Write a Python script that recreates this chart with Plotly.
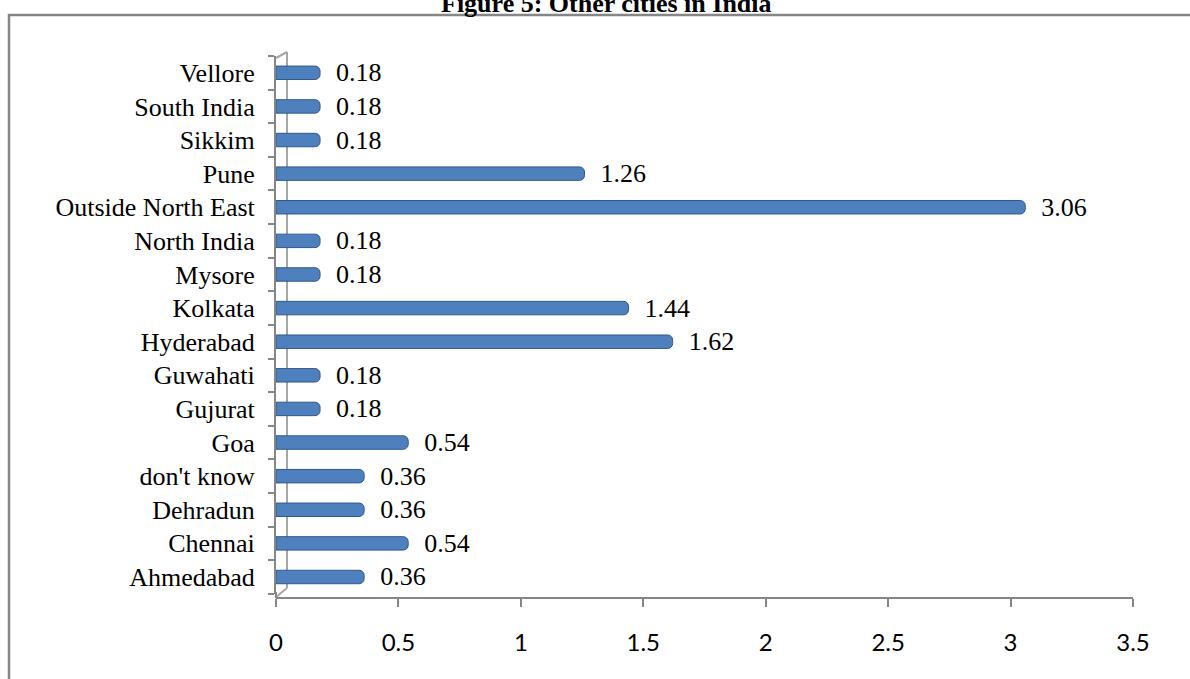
import plotly.graph_objects as go

categories = ["Ahmedabad", "Chennai", "Dehradun", "don't know", "Goa", "Gujurat",
              "Guwahati", "Hyderabad", "Kolkata", "Mysore", "North India",
              "Outside North East", "Pune", "Sikkim", "South India", "Vellore"]
values = [0.36, 0.54, 0.36, 0.36, 0.54, 0.18, 0.18, 1.62, 1.44, 0.18, 0.18,
          3.06, 1.26, 0.18, 0.18, 0.18]
x_ticks = [0, 0.5, 1, 1.5, 2, 2.5, 3, 3.5]
x_tick_labels = ["0", "0.5", "1", "1.5", "2", "2.5", "3", "3.5"]
title_text = "Figure 5: Other cities in India"

W, H = 1190, 679
L, R, T, B = 276, 57, 56, 81
PW, PH = W - L - R, H - T - B

def X(p):
    return (p - L) / PW

def Y(p):
    return (H - B - p) / PH

SERIF = "Liberation Serif, Times New Roman, serif"
GRAY = "#868686"

fig = go.Figure(go.Bar(
    y=categories, x=values, orientation="h",
    marker=dict(color="#4E80BE", line=dict(color="#2F5A8C", width=1), cornerradius=5),
    text=values, texttemplate="  %{x}", textposition="outside", constraintext="none",
    textfont=dict(family=SERIF, size=26, color="black"),
    cliponaxis=False,
))

fig.update_layout(
    width=W, height=H,
    margin=dict(l=L, r=R, t=T, b=B, pad=0),
    paper_bgcolor="white", plot_bgcolor="white",
    bargap=0.6, showlegend=False,
    xaxis=dict(range=[0, 3.5], tickvals=x_ticks, ticktext=x_tick_labels,
               showgrid=False, zeroline=False, showline=True, linecolor=GRAY, linewidth=2,
               ticks="outside", ticklen=8, tickwidth=2, tickcolor=GRAY,
               ticklabelstandoff=15, anchor="free", position=0,
               tickfont=dict(family="Lato, Open Sans, sans-serif", size=24, color="black")),
    yaxis=dict(type="category", categoryorder="array", categoryarray=categories,
               domain=[Y(593.8), 1],
               showgrid=False, zeroline=False, showline=True, linecolor=GRAY, linewidth=2,
               ticks="outside", ticklen=6, tickwidth=2, tickcolor=GRAY, tickson="boundaries",
               ticklabelstandoff=14,
               tickfont=dict(family=SERIF, size=26, color="black")),
)

shapes = [
    # outer border
    dict(type="rect", xref="paper", yref="paper", x0=X(9), x1=X(1210), y0=Y(720), y1=Y(15),
         line=dict(color=GRAY, width=2.5), fillcolor="rgba(0,0,0,0)", layer="below"),
    # back wall edge
    dict(type="line", xref="paper", yref="paper", x0=X(287), x1=X(287), y0=Y(588), y1=Y(52),
         line=dict(color="#A6A6A6", width=2), layer="below"),
    dict(type="line", xref="paper", yref="paper", x0=X(276), x1=X(287), y0=Y(58), y1=Y(52),
         line=dict(color="#A6A6A6", width=2), layer="below"),
    dict(type="line", xref="paper", yref="paper", x0=X(276), x1=X(287), y0=Y(597), y1=Y(588),
         line=dict(color="#A6A6A6", width=2), layer="below"),
    # join front axis to x axis
    dict(type="line", xref="paper", yref="paper", x0=X(276), x1=X(276), y0=Y(598), y1=Y(592),
         line=dict(color=GRAY, width=2), layer="below"),
]
fig.update_layout(shapes=shapes)

fig.add_annotation(text="<b>" + title_text + "</b>", xref="paper", yref="paper",
                   x=X(606), y=Y(4), xanchor="center", yanchor="middle", showarrow=False,
                   font=dict(family=SERIF, size=26, color="black"))

fig.write_html("out.html")
